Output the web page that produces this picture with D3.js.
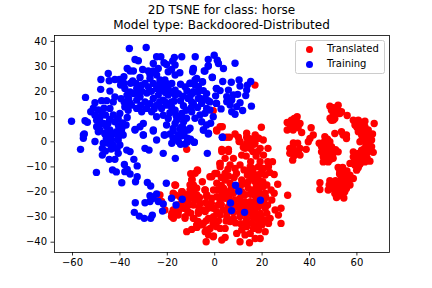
<!DOCTYPE html>
<html><head><meta charset="utf-8">
<script src="https://cdn.jsdelivr.net/npm/d3@7"></script>
<style>html,body{margin:0;padding:0;background:#fff}svg{display:block}text{font-family:"DejaVu Sans",sans-serif;fill:#000}</style>
</head><body><div id="c"></div>
<script>
const title1 = "2D TSNE for class: horse";
const title2 = "Model type: Backdoored-Distributed";
const seriesNames = ["Translated", "Training"];
const seriesColors = ["#ff0000", "#0000ff"];
const xTicks = [-60,-40,-20,0,20,40,60];
const yTicks = [-40,-30,-20,-10,0,10,20,30,40];

const translated = [
[17.2,22.4],[-.4,12.2],[1,4.5],[2.5,5.8],[3.4,5.8],[19.9,5.6],[-11.6,-3.2],
[1.1,4.1],[8.8,2.9],[6.4,1.6],[3.9,1.6],[10.5,-.1],[13.7,3.2],[17.3,2.5],[18.7,1.2],[15.9,-.1],[15.2,-2.8],[13,-2.8],[19.4,-2.8],[22.7,-2.8],
[3.2,-4.1],[6,-4.1],[11.6,-5.5],[13.5,-5.9],[17.7,-5.9],[20.8,-5.5],[4.6,-6.8],[8.1,-6.8],[2.5,-8.8],[15.4,-8.1],[19.4,-8.1],[22.6,-8.1],[24.6,-8.1],
[2.5,-10.1],[6.7,-9.4],[10.9,-9.4],[8.8,-10.8],[12.6,-11.4],[18.7,-10.1],[20.8,-10.8],[22.9,-10.1],
[-7,-11.7],[1.1,-12.8],[-1,-14.1],[25.3,-13.2],[21.5,-13.4],[16.6,-12.8],[14,-13.4],
[-9.3,-15.2],[-10.2,-17.4],[-8.5,-18.1],[-5,-16.1],[1.1,-16.7],[4.6,-15.4],[6.7,-16.7],[11.6,-15.4],[14.4,-16.1],[17.3,-16.1],[20.5,-16.1],[22.2,-17.4],
[-16.3,-17.5],[26.8,-17.1],[24,-19.4],[25.3,-20.7],[31,-21.5],[-13.5,-20.1],[-16.5,-21.4],[-14.4,-22.1],[-8.8,-20.7],[-10.2,-22.7],[-8,-23.4],[-10.9,-25.4],[-8.8,-25.4],[-5.9,-24.7],
[-3.8,-19.4],[-3.1,-21.4],[-.3,-19.4],[-1,-22.7],[1.8,-19.4],[1.1,-22.1],
[3.9,-18.7],[5.3,-20.1],[8.1,-20.7],[11.6,-20.1],[14.4,-18.7],[16.6,-19.4],[18.7,-20.1],[21.5,-20.7],[24.3,-23.4],[20.8,-24.1],
[2.5,-23.4],[4.6,-22.7],[8.8,-23.4],[10.9,-22.7],[13,-24.1],[15.2,-24.1],[17.3,-24.1],[18.7,-26.1],[21.5,-26.7],[19.4,-28.7],[22.2,-28.7],[14.5,-27.4],[11.6,-26.7],[9.5,-26.1],[6,-26.1],[3.9,-27.4],[1.1,-28],[-1.7,-26.3],[-3.8,-28],[-6.6,-28.7],[-8.8,-30.7],[-12.3,-30],[-15.1,-28],[-17.2,-30.7],[-17.9,-28.7],[-15.1,-25.4],
[25.7,-27.4],[28.2,-26.7],[27.1,-29.4],[28.2,-32.7],[23.6,-30.7],[22.9,-32.7],
[-2.4,-30.7],[-.3,-30],[2.5,-29.4],[5.3,-30],[8.1,-30.7],[10.9,-30],[13.7,-30.7],[16.6,-30.7],[18.7,-32],[21.5,-31.4],
[-11.6,-36],[-9.5,-35.1],[-7.3,-34.3],[-5.2,-33.3],[-3.8,-36],[-1.7,-34.7],[-.3,-37.7],[-2.4,-37.3],[-3.4,-40],[3.2,-39.3],[4.6,-38.3],[2.5,-34.7],[4.6,-34.7],[6.7,-32],[9.5,-36.7],[11.6,-35.3],[13.7,-34],[15.2,-36.7],[13,-37.3],[17.3,-38.7],[19.4,-38.7],[21.5,-36],[16.6,-34.7],[18.7,-35.3],[20.1,-33.3],[10.9,-40],[14.9,-40.4],
[-22.9,-21.4],[-22.2,-24],[-20.8,-27.4],[-17.3,-20.7],[-13.7,-20.1],[-17.3,-27.4],[-18,-30],[-15.2,-29.4],[-12.3,-30.7],[-7.1,-11.4],[-8.5,-30.7],[-16.6,-17.4],[-1.8,-14.1],[.3,-12.8],[2.4,-8.8],
[-9.5,-15.4],[-8.8,-17.4],[-10.2,-19.4],[-7.4,-18.7],[-13,-26.7],[-11,-24.7],[-8.8,-22.7],[-6.7,-28],[-4.6,-27.4],[-2.5,-26.7],[-.4,-26.7],[1.7,-25.4],
[-7.4,-33.3],[-4.6,-32.7],[-3.2,-35.3],[-.4,-38],[1,-34],[-3.9,-19.4],[-3.2,-22],
[5.3,1.6],[10.2,1.6],[13.7,1.6],[15.8,.5],[18.6,1.2],[20.7,.5],[10.9,-.1],[13.7,-.8],[17.2,-.8],[12.3,-2.4],[3.2,-3.2],[6,-3.2],
[30.8,7.5],[30.8,4.5],[32.6,8.4],[35,9.8],[34,6.5],[32.6,5.8],[36.2,7.1],[33.3,4.5],[36.9,3.5],[34.8,7.8],
[40.9,5.4],[41.8,2.5],[40.4,1.1],[39.7,-.2],
[31.9,-2.8],[31.9,-4.8],[33.3,-2.8],[35.2,-.8],[36.2,-2.8],[34.8,-4.8],[36.2,-5.5],[33.1,-7.5],[38.8,-3.2],[34,-4.2],
[48.8,14],[52.3,14.4],[49.5,12.4],[51.6,12.4],[50.2,10.4],[53,11.1],[50.9,9.1],[49.5,8.4],[53.7,11.8],[56.1,10.3],
[58.7,8.4],[60.8,8.4],[63.6,8],[67.5,7.1],[59.4,6.5],[61.5,6.5],[63.6,5.8],[60.8,3.8],[62.9,3.8],[65,4.5],[66.8,2.9],[62.2,2.5],[64.3,1.1],[66.4,.5],[61.5,-.2],[63.6,-.2],
[66.4,-2.2],[67.1,-4.4],[65,-2.8],[64.3,-4.8],[62.2,-3.5],[58.7,-4.2],[60.8,-4.8],[62.9,-6.2],[65.7,-7.9],[63.6,-8.2],[60.8,-6.8],[58.7,-6.2],[57.3,-8.8],[59.4,-9.5],[61.5,-9.1],[60.1,-11.5],
[50.9,3.1],[53.7,3.8],[54.4,2.5],[55.8,1.1],[55.8,2.5],
[44.3,-.8],[46.7,1.8],[48.8,-.2],[45.3,-2.2],[47.4,-2.2],[49.5,-2.2],[52.3,-4.2],[45.3,-4.2],[47.4,-4.2],[50.2,-4.8],[46,-6.2],[48.1,-6.2],[46,-8.2],[48.1,-8.2],[50.2,-6.8],
[52.3,-10.4],[54.2,-10.4],[53,-12.1],[57.3,-13.5],[58.7,-14.8],[55.8,-13.9],[53.7,-14.8],[55.1,-16.1],[57.3,-17.4],[52.3,-16.8],[53.7,-18.1],[55.8,-18.8],[51.6,-18.8],[48.8,-15.7],[48.5,-17.4],[48.1,-19.4],[44.6,-16.5],[44.6,-19.2],[49.5,-18.1],[52.3,-20.1],[55.1,-20.1],[51.6,-22.4],[54.7,-22.6],[53,-21.4],[50.9,-20.8],
// denser fill of the overlapping blobs
[-8,-12.7],[-9.9,-12.9],[-7.3,-21.4],[-6.2,-22.4],[-11.6,-21.3],[-12.4,-23.4],[-6.4,-26.4],[-3.5,-24.5],[-1.2,-24.8],[-11.2,-27.8],[-13.6,-24.3],[-9.9,-28.6],
[3.4,-21],[6.3,-22.1],[7.2,-18.5],[9.2,-17.9],[11.2,-17.5],[13,-21.3],[15.4,-21.1],[17.4,-21.9],[19.5,-22],[21.8,-22.4],
[6.6,-24.1],[8.6,-25.3],[11.3,-24.8],[13.1,-26],[15.8,-25.8],[17,-27.7],[20,-25],[22.5,-25.4],[16,-29],[13.3,-28.8],[10.7,-28.4],[8.1,-28.3],[5.6,-28.3],[3,-25.3],
[5,-31.8],[9,-32.5],[11.2,-32.8],[13.5,-32],[15.8,-32.6],[17.8,-33.8],[-.5,-32.5],[1.8,-31.7],[-3.4,-31.7],[-6.8,-31.9],[19.8,-30],[17.6,-30],
[14.3,-12],[16.4,-10.9],[15.2,-10.1],[17.8,-14.6],[19.5,-12.8],[23.4,-12.4],[18.7,-15.2],[16.1,-14.8],[12.6,-16.9],[20.5,-18.2],[17.8,-17.9],[19.4,-17.9],
[16.3,-4.1],[18.3,-4.1],[14.7,-1.4],[16.8,-1.2],[15,1],[5.8,-11.1],[4.6,-12.8],[8.4,-14.4],[6,-13.8],[3,-14.4],[9.4,-12.8],[3,-17.6],
[33.8,9.1],[31.9,6.8],[33.4,7.3],[35.4,5.4],[33.4,-.7],[33.7,-5.8],[35.5,-3.7],
[50.5,13.4],[52,13.1],[51.5,11],[48.9,9.2],[50.3,8.5],
[46.3,-.4],[47.8,.8],[47,-3.3],[48.7,-3.4],[49,-5.2],[46.7,-5.3],[47.3,-7.3],[49.1,-7.2],[51.2,-3.3],
[60,7.8],[62,7.5],[60.2,5.6],[62.3,5.1],[64.6,3.4],[63.4,2.2],[65.6,1.8],[62.5,.8],[65.2,-.9],[66,-3.8],[63.5,-2.7],[61.6,-4.8],[62.5,-8],[60.4,-8.2],[64.5,-6.6],[59.2,-7.4],[60.8,-10.4],
[52.9,-13],[54.5,-12.1],[56,-11.8],[56.2,-15.7],[54.5,-17.1],[51.2,-15.7],[53.1,-15.9],[52.3,-19.1],[54.4,-19.6],[56.6,-16.4],[50.5,-16.8],[50.5,-19],[53.7,-20.7],[52.2,-21.8]
];

const training = [
[-35.8,37],[-28.7,37.4],[-33.4,32.6],[-32,32.1],[-24.3,33.7],[-22.5,33.7],[-16.8,33.4],[-13.7,33.7],[-17.5,32],[-8,33.7],[0,34.3],[-2.5,32.6],[1.3,32.3],[-21.2,31.3],[-20.1,30.6],[-25.7,31],[-16.5,30.4],[-8.8,29],[-9.1,27.7],[-2.5,30],[-4.2,28],
[-36.7,29],[-35.5,28],[-34.1,28],[-44.7,27],[-30.2,28.6],[-27.8,28],[-25.7,28],[-23.6,29],[-18,28.6],[-19.4,27.7],[-14.5,27.3],[-16.5,26.4],[-.8,25.4],
[-47.8,24.6],[-44.3,24.1],[-41.9,24.6],[-40,24.6],[-38.1,25.7],[-31.3,25.4],[-29.2,23],[-34.4,24],[-27.1,25],[-24.3,26.4],[-22.9,24.4],[-20.8,24.4],[-25.7,23],[-7.4,25],[-5,23.7],[-10.2,23],[-8.1,22.4],[-14.2,22.7],[-12.3,21.7],
[-47.9,20.7],[-44,20],[-39.5,22.4],[-37.7,21],[-35.5,19.7],[-32.7,21],[-30.6,22.4],[-27.8,21.7],[-24.3,21],[-21.5,21.7],[-19.4,21],[-16.5,20.4],[-15.1,19],[.9,21],[-3.2,19],[.6,18.1],[.9,15.1],[-6.7,19.7],[-9.1,19.1],[-11,17.1],[-9.5,15.7],[-6.7,17.1],[-4,17.1],[-1.8,15.7],
[-54.3,17.5],[-50.3,15.4],[-47.5,16.2],[-45.4,16.2],[-41.9,17.7],[-42.6,15.7],
[-52.1,11.8],[-50.3,10.4],[-48.2,9.5],[-49.6,8.4],[-46.8,7.1],[-49.6,5.8],[-48.2,4.5],[-45.4,5.8],[-44,4.5],[-46.1,3.1],[-43.3,2.5],[-40.5,1.8],[-39.1,3.8],[-41.2,3.8],
[-40.5,9.1],[-41.9,7.8],[-44,13.1],[-39.8,11.1],[-36.7,9.5],[-37.2,6.5],[-33.4,4.7],[-31.3,5.8],[-29.9,7.1],[-29.9,2.5],[-25.7,4.5],[-20.8,2.5],[-24.3,.5],
[-17.3,1.2],[-15.2,2.6],[-13.4,5.6],[-11,4.5],[-17.3,5.1],[-17.3,4.1],[-13.7,5.8],[-16.5,7.1],[-20.1,6.5],[-14.4,5],[-12.7,3.3],[-11.3,1.2],[-11.3,-.3],[-12.3,-1.1],[-15.1,-.1],[-17.9,-.8],
[-60.2,8],[-54.5,8.2],[-53.5,7.6],[-55.2,2.5],[-54.8,2.9],[-55.2,1.2],[-50.3,-.1],[-56.4,-3.2],[-47.2,-2.8],[-47.2,-5.5],[-44.3,-7.2],[-41.9,-7.2],[-40.5,-4.8],[-36.9,-3.5],[-35.5,-4.1],[-33.9,-7.2],[-32.5,-9.8],[-37.9,-9.2],[-36.7,-11.2],[-37.7,-12.1],[-35.5,-13],[-32.5,-14.1],[-33.2,-16.1],[-42.9,-11.4],[-41.3,-12.2],[-49.7,-12.4],[-39,-16.5],
[-48.9,3.8],[-46.1,2.9],[-44,1.8],[-41.9,3.1],[-39.8,2.5],[-38.4,2.5],[-40.5,.5],[-42.6,-1.5],[-44.7,-.8],[-46.8,-.8],[-39.8,-1.5],[-43.3,.5],
[-29.2,-2.8],[-27.5,-3.5],[-21.5,-4.8],[-16.4,-6.8],[-2.9,-4.8],[-8.4,-.4],[-29.9,2.5],[-21.1,2.5],[-25.7,4.1],[-33.4,4.5],
[-28.2,-16.4],[-26.8,-17.8],[-20.2,-16.7],[-27.1,-21.7],[-24.3,-21],[-25.7,-22.7],[-27.1,-24],[-29.2,-24.5],[-33.3,-24.5],[-23.6,-24],[-21.5,-25],[-21.8,-27.8],[-18,-22.7],[-16.1,-25.4],[-13.5,-23.1],[-33.7,-28.3],[-31.6,-29.8],[-29.5,-30.7],[-26.8,-30.7],[-26.1,-29.4],
[9,-17.5],[10.4,-19.9],[6.9,-24.6],[7.3,-27.6],[12.8,-28.3],[19.5,-23.5],[3.5,1.6],[-2.4,3.2],[-4.5,4.5],
[8.8,31.1],[-2.5,30],[-3.9,28],[-8.8,28.7],[-.8,25.5],[1.8,31],[3.9,29],[3.6,23.8],[7.2,23.5],[10.5,24.4],[10.9,22],[15.4,23.8],[14,22.4],[1,21.1],[2.5,20.2],[6,20.4],[13.7,20.4],[13.3,18.2],[9.9,18.7],[8.1,18.5],[5.3,17.8],[-2.5,16.2],[1,15.1],[5.3,15.8],[7.4,16.5],[6.7,14.5],[10.9,15.4],[9.5,13.8],[2.9,12.9],[7.4,11.8],[8.8,10.8],[12,12.3],[15.7,14],
[-10.2,23.1],[-8.1,24.4],[-4.9,23.6],[-6.7,21.8],[-4.6,20.2],[-8.8,19.8],[-10.2,17.8],[-6,17.1],[-8.8,15.1],[-5.3,15.1],[-3.2,13.1],[-1.8,12.5],[-3.9,11.2],[-.4,9.8],[-6,10.5],[-9.5,11.8],[-8.1,9.2],[-5.3,7.8],[-3.2,6.5],[-1.5,7.2],[-2.5,2.9],[-4.6,4.5],[-10.2,5.2],[-8.4,-.4],[3.4,1.6],
[-38,15.7],[-36.1,17],[-34.9,14.4],[-32.7,13.1],[-32.7,16.4],[-34.1,19],[-31.3,17.7],[-29.2,15.7],[-27.1,15],[-25.7,17.1],[-23.6,18.4],[-21.5,16.4],[-19.4,18.4],[-18,15.7],[-16.5,18.4],[-28.5,13.1],[-26.4,11.8],[-30.6,11.8],[-36.3,12.4],[-37.7,13.7],[-24.3,14.4],[-22.2,13.1],[-20.1,14.4],[-16.5,12.4],[-13.7,11.1],[-11.7,9.2],[-14.4,9.8],[-18,13.7],[-15.8,8.5],[-12.9,7.8],[-24.3,9.8],[-19.4,9.1],[-21.5,10.4],
// denser fill of the overlapping blobs
[-33,19.1],[-30.5,19.9],[-28.4,19.2],[-26.5,19.9],[-22.7,20.1],[-20.6,19.4],[-18,19.5],[-36.8,18.4],[-39.3,17],[-35.7,15.5],[-31,14.3],[-25.3,13],[-23,15.7],[-20.6,15.6],[-16.9,16],[-14.2,16.2],[-13,14.2],[-11.9,12.4],[-9.8,13.3],[-7,13.5],[-18.7,11.4],[-16.1,10.3],[-13,18],[-11.5,20.2],[-17.9,23],[-20.1,23],[-35.3,23.1],[-33,23],[-23,22.8],[-27.1,26.6],[-38,23],
[-51,13.2],[-48.9,12.5],[-46.5,13.2],[-45.9,10.5],[-47.4,11.2],[-44.1,8.7],[-42.6,10.5],[-44.8,7.2],[-40.4,6.2],[-38.6,7.3],[-48.4,6.8],[-43.5,-3.1],[-45.9,-3.9],[-41,-3],[-38.9,5.4],[-45.5,1.2],[-15.8,1],[-14.2,-1.2],[-10,.8],[-13.6,2.2],[-18.6,2.9]
];
</script>
<script>
const W = 432, H = 288;
const L = 54, R = 389, T = 35, B = 252;
const x = d3.scaleLinear().domain([-67.4, 73.9]).range([214.2 - 67.4*2.37, 214.2 + 73.9*2.37]);
const y = d3.scaleLinear().domain([-44.3, 42.3]).range([141.3 + 44.3*2.51, 141.3 - 42.3*2.51]);
const svg = d3.select("#c").append("svg").attr("width", W).attr("height", H);

svg.append("text").attr("x", (L+R)/2).attr("y", 13.5).attr("text-anchor","middle").attr("font-size",12).text(title1);
svg.append("text").attr("x", (L+R)/2).attr("y", 29).attr("text-anchor","middle").attr("font-size",12).text(title2);

[translated, training].forEach((pts,i) => {
  svg.append("g").selectAll("circle").data(pts).join("circle")
    .attr("cx", d => x(d[0])).attr("cy", d => y(d[1])).attr("r", 3.7)
    .attr("fill", seriesColors[i]);
});

const gx = svg.append("g").attr("transform", `translate(0,${B})`).call(d3.axisBottom(x).tickValues(xTicks).tickSize(3.5).tickPadding(3.5));
const gy = svg.append("g").attr("transform", `translate(${L},0)`).call(d3.axisLeft(y).tickValues(yTicks).tickSize(3.5).tickPadding(3.5));
[gx,gy].forEach(g => {
  g.select(".domain").remove();
  g.selectAll("text").attr("font-size",10).attr("font-family",'"DejaVu Sans",sans-serif');
  g.selectAll("line").attr("stroke","#000").attr("stroke-width",0.8);
});
svg.append("rect").attr("x",L+.5).attr("y",T+.5).attr("width",R-L).attr("height",B-T)
  .attr("fill","none").attr("stroke","#000").attr("stroke-width",0.8);

const lg = svg.append("g");
lg.append("rect").attr("x",295.5).attr("y",40.5).attr("width",89).attr("height",33).attr("rx",2)
  .attr("fill","#fff").attr("fill-opacity",0.8).attr("stroke","#ccc").attr("stroke-width",1);
seriesNames.forEach((n,i) => {
  lg.append("circle").attr("cx",309.5).attr("cy",49.5+15*i).attr("r",3.5).attr("fill",seriesColors[i]);
  lg.append("text").attr("x",327).attr("y",52+15*i).attr("font-size",10).text(n);
});
</script>
</body></html>
